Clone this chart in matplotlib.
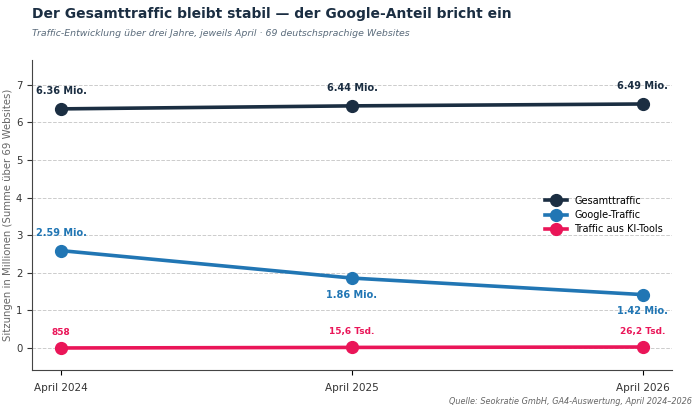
import matplotlib
matplotlib.use("Agg")
import matplotlib.pyplot as plt

years = ["April 2024", "April 2025", "April 2026"]
gesamt = [6.36, 6.44, 6.49]
google = [2.59, 1.86, 1.42]
ki = [0.000858, 0.0156, 0.0262]
gesamt_labels = ["6.36 Mio.", "6.44 Mio.", "6.49 Mio."]
google_labels = ["2.59 Mio.", "1.86 Mio.", "1.42 Mio."]
ki_labels = ["858", "15,6 Tsd.", "26,2 Tsd."]

c_ges = "#1b2e42"
c_goo = "#2176b4"
c_ki = "#ea1558"

fig = plt.figure(figsize=(6.99, 4.12), dpi=100)
ax = fig.add_axes([32/699, 1-370/412, 640/699, 310/412])
x = list(range(len(years)))

ax.plot(x, gesamt, color=c_ges, lw=2.6, marker="o", ms=8.5, label="Gesamttraffic", zorder=3)
ax.plot(x, google, color=c_goo, lw=2.6, marker="o", ms=8.5, label="Google-Traffic", zorder=3)
ax.plot(x, ki, color=c_ki, lw=2.6, marker="o", ms=8.5, label="Traffic aus KI-Tools", zorder=3)

for i in x:
    ax.annotate(gesamt_labels[i], (i, gesamt[i]), xytext=(0, 13), textcoords="offset points",
                ha="center", va="center", fontsize=7, fontweight="bold", color=c_ges)
    off = 13 if i == 0 else -12
    ax.annotate(google_labels[i], (i, google[i]), xytext=(0, off), textcoords="offset points",
                ha="center", va="center", fontsize=7, fontweight="bold", color=c_goo)
    ax.annotate(ki_labels[i], (i, ki[i]), xytext=(0, 11.5), textcoords="offset points",
                ha="center", va="center", fontsize=6.5, fontweight="bold", color=c_ki)

ax.set_xlim(-0.1, 2.1)
ax.set_ylim(-0.585, 7.66)
ax.set_xticks(x)
ax.set_xticklabels(years, fontsize=7.5, color="#333333")
ax.set_yticks(range(0, 8))
ax.tick_params(axis="y", labelsize=7.3, colors="#333333")
ax.tick_params(axis="x", pad=6)
for s in ["top", "right"]:
    ax.spines[s].set_visible(False)
ax.spines["left"].set_color("#444444")
ax.spines["bottom"].set_color("#444444")
ax.grid(axis="y", ls="--", color="#cccccc", lw=0.7)
ax.set_axisbelow(True)
ax.set_ylabel("Sitzungen in Millionen (Summe über 69 Websites)", fontsize=7.3,
              color="#666666", labelpad=2)

ax.legend(loc="center right", bbox_to_anchor=(1.0, 0.5), frameon=False, fontsize=7,
          handlelength=2.2, labelspacing=0.45)

fig.text(32/699, 1-14/412, "Der Gesamttraffic bleibt stabil — der Google-Anteil bricht ein",
         fontsize=10, fontweight="bold", color="#1b2e42", va="center")
fig.text(32/699, 1-33/412, "Traffic-Entwicklung über drei Jahre, jeweils April · 69 deutschsprachige Websites",
         fontsize=6.75, style="italic", color="#5a6b7b", va="center")
fig.text(692/699, 1-402/412, "Quelle: Seokratie GmbH, GA4-Auswertung, April 2024–2026",
         fontsize=5.9, style="italic", color="#666666", ha="right", va="center")

fig.savefig("out.png", dpi=100)
